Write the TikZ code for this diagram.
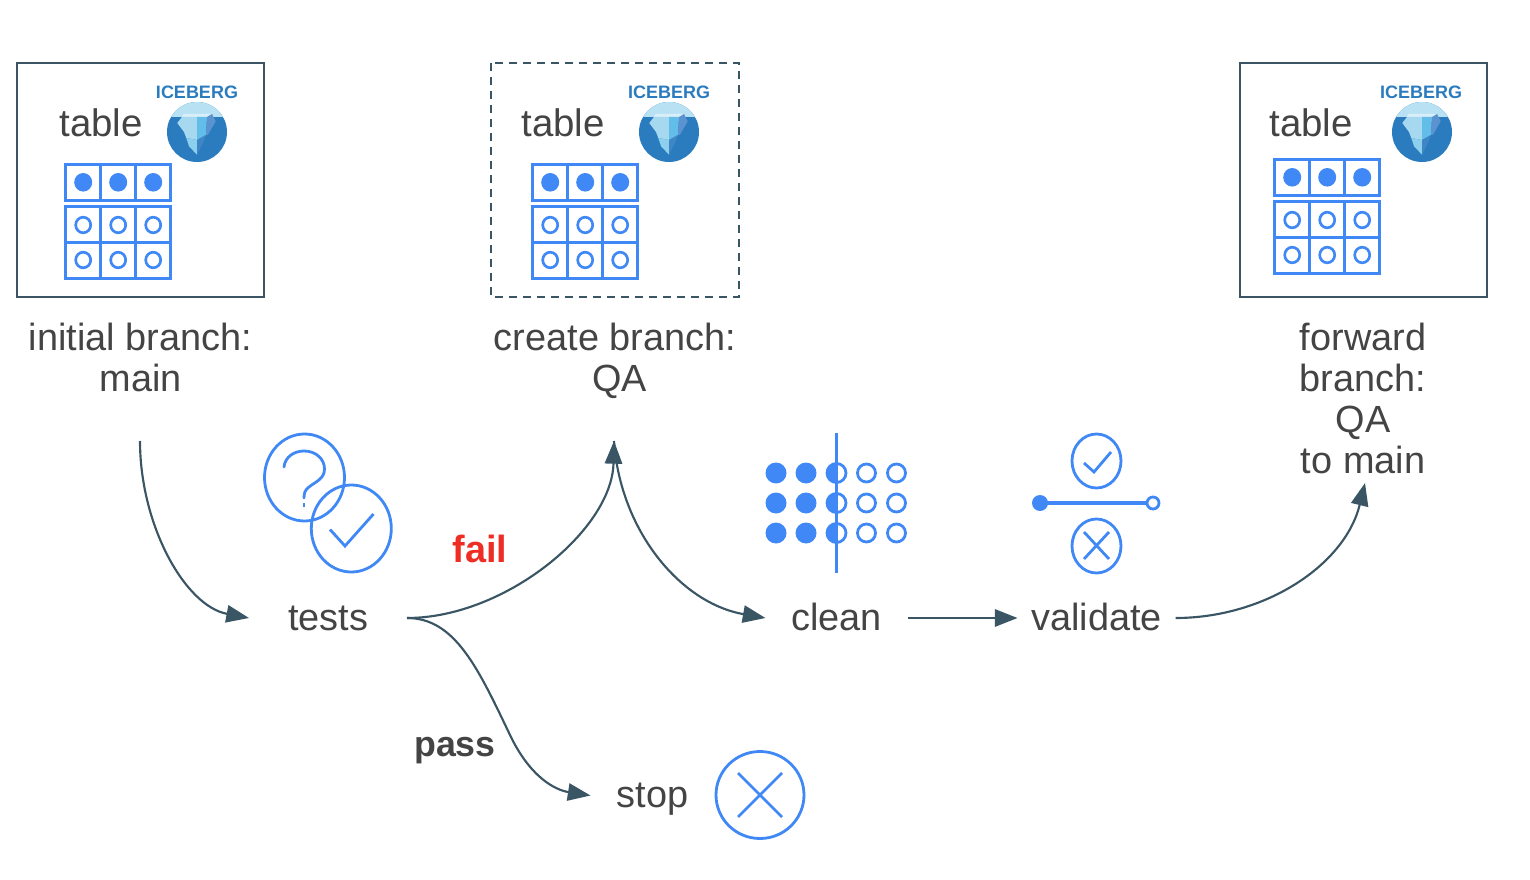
\documentclass[tikz,border=0pt]{standalone}
\usepackage{fontspec}
\setmainfont{Liberation Sans}
\usetikzlibrary{arrows.meta}
\definecolor{iconblue}{HTML}{3F88F5}
\definecolor{slate}{HTML}{3A5564}
\definecolor{txt}{HTML}{444444}
\definecolor{failred}{HTML}{EE2E24}
\definecolor{ibdeep}{HTML}{2B7BBF}
\definecolor{ibcap}{HTML}{B8E1F3}
\definecolor{ibtop}{HTML}{D8EEF8}
\definecolor{ibleft}{HTML}{A6D9F0}
\definecolor{iblow}{HTML}{8CD0EE}
\definecolor{ibmid}{HTML}{62BDE9}
\definecolor{ibright}{HTML}{5B93D0}
\definecolor{ibkeel}{HTML}{3F86C6}
\tikzset{
  x=0.75pt,y=-0.75pt,
  bodyfont/.style={font=\fontsize{28.4}{30.75}\selectfont,text=txt},
  boldfont/.style={font=\bfseries\fontsize{28.4}{30.75}\selectfont,inner sep=0pt,anchor=base},
  passfont/.style={font=\bfseries\fontsize{26.8}{30.75}\selectfont,inner sep=0pt,anchor=base},
  steplabel/.style={bodyfont,inner sep=0pt,outer sep=0pt,text height=24pt,text depth=6pt},
  caption/.style={bodyfont,inner sep=0pt,outer sep=0pt,align=center,anchor=north},
  tabletext/.style={font=\fontsize{28.8}{30.75}\selectfont,text=txt,inner sep=0pt,anchor=base},
  icebergtext/.style={font=\bfseries\fontsize{13.5}{14}\selectfont,text=ibdeep,inner sep=0pt,anchor=base},
  branchbox/.style={draw=slate,line width=1.9pt},
  conn/.style={draw=slate,line width=1.6pt,-{Triangle[length=17pt,width=13pt]}},
  iconline/.style={draw=iconblue,line width=2.1pt},
  gridline/.style={draw=iconblue,line width=2pt},
  thinicon/.style={draw=iconblue,line width=2.1pt},
  icebergicon/.pic={
    \fill[ibdeep] (0,0) circle[radius=30];
    \begin{scope}
      \clip (0,0) circle[radius=30];
      \fill[ibcap] (-31,-31) rectangle (31,-15);
    \end{scope}
    \fill[ibtop] (-14,-18) -- (15,-18) -- (13,-15) -- (-15,-15) -- cycle;
    \fill[ibleft] (-19.7,-9) -- (-15,-15) -- (0,-15) -- (0,8) -- (-10.7,6) -- (-13,0) -- cycle;
    \fill[iblow] (-10.7,6) -- (0,8) -- (0,22.7) -- (-8,14.3) -- cycle;
    \fill[ibmid] (0,-15) -- (10,-15) -- (9,3) -- (0,8) -- cycle;
    \fill[ibright] (10,-15) -- (15,-18) -- (18.7,-10.7) -- (11,2.7) -- (9,3) -- cycle;
    \fill[ibkeel] (0,8) -- (9,3) -- (6,11) -- (0,22.7) -- cycle;
  },
  gridicon/.pic={
    \draw[gridline] (0,0) rectangle (105,36);
    \draw[gridline] (0,42) rectangle (105,114);
    \draw[gridline] (0,78) -- (105,78);
    \foreach \cx in {35,70}{
      \draw[gridline] (\cx,0) -- (\cx,36);
      \draw[gridline] (\cx,42) -- (\cx,114);
    }
    \foreach \cx in {17.5,52.5,87.5}{
      \fill[iconblue] (\cx,17.6) ellipse[x radius=9,y radius=9.3];
      \draw[gridline] (\cx,60.3) ellipse[x radius=7.5,y radius=7.8];
      \draw[gridline] (\cx,95.3) ellipse[x radius=7.5,y radius=7.8];
    }
  },
}
\begin{document}
\begin{tikzpicture}
\useasboundingbox (0,0) rectangle (1530,880);
% branch boxes
\draw[branchbox] (17,63) rectangle (264,297);
\draw[branchbox,dash pattern=on 6pt off 4.5pt] (491,63) rectangle (739,297);
\draw[branchbox] (1240,63) rectangle (1487,297);
% table 1
\node[tabletext] (t1) at (101,137) {table};
\node[icebergtext] (i1) at (197,98.5) {ICEBERG};
\pic at (197,132) {icebergicon};
\pic at (65.7,164.7) {gridicon};
% table 2
\node[tabletext] (t2) at (563,137) {table};
\node[icebergtext] (i2) at (669,98.5) {ICEBERG};
\pic at (669,132) {icebergicon};
\pic at (532.7,164.7) {gridicon};
% table 3
\node[tabletext] (t3) at (1311,137) {table};
\node[icebergtext] (i3) at (1421,98.5) {ICEBERG};
\pic at (1422,132) {icebergicon};
\pic at (1274.7,159.7) {gridicon};
% captions
\node[caption] (capA) at (140.5,323) {initial branch:\\main};
\node[caption] (capB) at (615,323) {create branch:\\\hspace*{7pt}QA};
\node[caption] (capC) at (1363,323) {forward\\branch:\\QA\\to main};
\coordinate (outA) at (140,441);
\coordinate (hubB) at (614,441);
\coordinate (inC) at (1365,483);
\coordinate (passbend) at (510,735);
% step labels
\node[steplabel,minimum width=118.5pt] (tests) at (328,618) {tests};
\node[steplabel,minimum width=106.5pt] (clean) at (836.5,618) {clean};
\node[steplabel,minimum width=118.5pt] (validate) at (1096.5,618) {validate};
\node[steplabel,minimum width=93pt] (stop) at (652.5,795.5) {stop};
\node[boldfont,text=failred] (fail) at (480,562) {fail};
\node[passfont,text=txt] (pass) at (455,756) {pass};
% connectors
\draw[conn] (outA) .. controls (140,525) and (185,606) .. (tests.west);
\draw[conn] (tests.east) .. controls (505,618) and (612,530) .. (hubB);
\draw[conn] (hubB) .. controls (620,530) and (680,603) .. (clean.west);
\draw[conn] (clean.east) -- (validate.west);
\draw[conn] (validate.east) .. controls (1265,618) and (1345,565) .. (inC);
\draw[conn] (tests.east) .. controls (455,618) and (478,668) .. (passbend) .. controls (530,777) and (555,790) .. (stop.west);
% tests icon
\draw[thinicon] (304.5,477.5) ellipse[x radius=40,y radius=43.5];
\draw[thinicon] (351.3,528.5) ellipse[x radius=40,y radius=43.5];
\draw[thinicon,line cap=round] (284,467) .. controls (285,457) and (294,451) .. (304,451) .. controls (316,451) and (324.5,459) .. (324.5,469) .. controls (324.5,479) and (315,482) .. (309,487) .. controls (305,490) and (304,493) .. (304,498);
\draw[thinicon] (304,503) -- (304,507);
\draw[thinicon] (330,529.5) -- (345,546) -- (373.5,514);
% clean icon
\foreach \dy in {473,503,533}{
  \foreach \dx in {776,806}{\fill[iconblue] (\dx,\dy) circle[radius=10.5];}
  \fill[iconblue] (836.5,\dy+10) arc[start angle=90,end angle=270,radius=10] -- cycle;
  \draw[iconline] (836.5,\dy) circle[radius=9.5];
  \foreach \dx in {866.5,896.5}{\draw[iconline] (\dx,\dy) circle[radius=9];}
}
\draw[iconline,line width=2.3pt] (836.5,433) -- (836.5,573);
% validate icon
\draw[thinicon] (1096.5,461) ellipse[x radius=24.5,y radius=27];
\draw[thinicon] (1084,463) -- (1094,472) -- (1111,452);
\draw[thinicon] (1096.5,546) ellipse[x radius=24.5,y radius=27];
\draw[thinicon] (1084,532) -- (1109,559);
\draw[thinicon] (1109,532) -- (1084,559);
\draw[iconline,line width=2.5pt] (1040,503) -- (1147,503);
\fill[iconblue] (1040,503) circle[radius=8];
\draw[iconline,fill=white] (1153,503) circle[radius=6];
% stop icon
\draw[thinicon] (760,795) ellipse[x radius=44,y radius=43.5];
\draw[thinicon] (738,773) -- (782,817);
\draw[thinicon] (782,773) -- (738,817);
\end{tikzpicture}
\end{document}
